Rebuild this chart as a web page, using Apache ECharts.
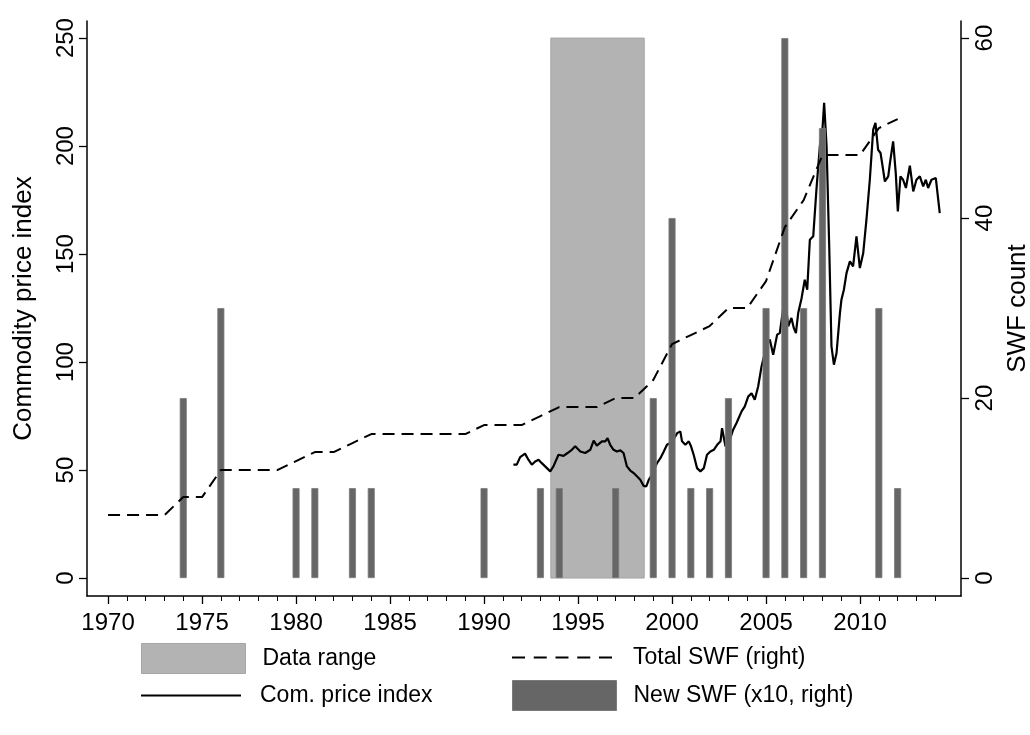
<!DOCTYPE html>
<html>
<head>
<meta charset="utf-8">
<script src="https://cdn.jsdelivr.net/npm/echarts@6/dist/echarts.min.js"></script>
<style>
html,body{margin:0;padding:0;background:#fff;}
#chart{width:1030px;height:735px;}
</style>
</head>
<body>
<div id="chart"></div>
<script>
// ---- Data ----
const xMajorTicks = [1970,1975,1980,1985,1990,1995,2000,2005,2010];
const xMinorTicks = [1970,1971,1972,1973,1974,1975,1976,1977,1978,1979,1980,1981,1982,1983,1984,1985,1986,1987,1988,1989,1990,1991,1992,1993,1994,1995,1996,1997,1998,1999,2000,2001,2002,2003,2004,2005,2006,2007,2008,2009,2010,2011,2012,2013,2014];
const yLeftTicks = [0,50,100,150,200,250];
const yRightTicks = [0,20,40,60];

const dataRange = [1993.55, 1998.52];   // shaded years
const dataRangeTop = 250;

const swfYears = [1970,1971,1972,1973,1974,1975,1976,1977,1978,1979,1980,1981,1982,1983,1984,1985,1986,1987,1988,1989,1990,1991,1992,1993,1994,1995,1996,1997,1998,1999,2000,2001,2002,2003,2004,2005,2006,2007,2008,2009,2010,2011,2012];
const totalSwf = [7,7,7,7,9,9,12,12,12,12,13,14,14,15,16,16,16,16,16,16,17,17,17,18,19,19,19,20,20,22,26,27,28,30,30,33,39,42,47,47,47,50,51];

const newSwfYears = [1974,1976,1980,1981,1983,1984,1990,1993,1994,1997,1999,2000,2001,2002,2003,2005,2006,2007,2008,2011,2012];
const newSwfX10 = [20,30,10,10,10,10,10,10,10,10,20,40,10,10,20,30,60,30,50,30,10];

const priceTime = [1991.56,1991.74,1991.92,1992.18,1992.36,1992.54,1992.72,1992.90,1993.07,1993.25,1993.52,1993.69,1993.96,1994.23,1994.44,1994.67,1994.85,1995.12,1995.38,1995.65,1995.83,1996.00,1996.27,1996.45,1996.57,1996.71,1996.89,1997.07,1997.25,1997.42,1997.60,1997.78,1997.96,1998.13,1998.31,1998.49,1998.63,1998.76,1998.88,1999.20,1999.38,1999.56,1999.73,2000.00,2000.27,2000.44,2000.53,2000.71,2000.89,2001.01,2001.15,2001.33,2001.51,2001.69,2001.86,2002.04,2002.22,2002.40,2002.58,2002.66,2002.84,2003.07,2003.25,2003.43,2003.70,2003.87,2004.05,2004.23,2004.40,2004.58,2004.76,2005.02,2005.20,2005.38,2005.59,2005.73,2006.00,2006.18,2006.35,2006.48,2006.59,2006.71,2006.89,2007.06,2007.19,2007.33,2007.51,2007.68,2007.86,2008.00,2008.09,2008.22,2008.36,2008.48,2008.61,2008.75,2008.93,2009.01,2009.14,2009.28,2009.46,2009.63,2009.81,2009.99,2010.17,2010.34,2010.52,2010.70,2010.82,2010.96,2011.09,2011.20,2011.32,2011.50,2011.59,2011.76,2011.90,2012.01,2012.15,2012.29,2012.44,2012.65,2012.83,2013.00,2013.18,2013.36,2013.50,2013.62,2013.80,2014.03,2014.24];
const priceIndex = [52.5,52.5,56,57.6,54.8,52.5,54,54.8,53.2,51.7,49.4,51.7,57.1,56.6,57.9,59.4,61,58.6,57.9,59.4,63.6,61.3,63.3,63.3,64.8,61.7,59.4,58.6,59.1,57.9,51.7,49.8,48.6,47.1,45.5,42.7,42.4,45.5,47.1,53.2,55.5,58.6,61.7,63,67.1,67.9,63.3,61.7,63.3,61,57.1,50.9,49.4,50.9,57.1,58.6,59.4,61.7,63.3,69.4,61,64,68.7,71.8,77.2,79.5,84,85.6,82.6,88.7,98,107.3,110.4,103.4,112.7,113.4,130.4,116.5,120.4,115.7,113.4,122.7,129.6,138.1,133.5,156.6,158.2,179.8,199.8,207.6,220,199.8,153.6,107.3,98.8,104.2,122.7,128.9,133.5,141.2,146.6,144.3,158.2,143.5,150.5,165.9,184.4,207.6,210.7,198.3,196.8,190.6,183.6,186,192.1,202.2,187.5,169.7,186,184.4,180.6,190.9,179,184.4,186,181.3,184.4,180.6,184.4,185.2,169];

// ---- Build ----
const FONT = 'Liberation Sans, Arial, Helvetica, sans-serif';
const TICK_FS = 24, TITLE_FS = 26, LEG_FS = 23;
const chart = echarts.init(document.getElementById('chart'), null, {renderer:'canvas'});

const xMin = 1968.88, xMax = 2015.37;
const yLMin = -8.3, yLMax = 257.9;
const yRMin = yLMin*yRightTicks[3]/yLeftTicks[5], yRMax = yLMax*yRightTicks[3]/yLeftTicks[5];

const axisLineStyle = {color:'#000', width:1.5};
const legText = {color:'#000', fontSize:LEG_FS, fontFamily:FONT, padding:[0,0,0,12]};
const legTextDash = {color:'#000', fontSize:LEG_FS, fontFamily:FONT, padding:[0,0,0,16]};
const dashIcon = 'path://M0,0h13v2h-13z M21.75,0h13v2h-13z M43.5,0h13v2h-13z M65.25,0h13v2h-13z M87,0h13v2h-13z';
const lineIcon = 'path://M0,0h100v2h-100z';

const option = {
  animation:false,
  backgroundColor:'#fff',
  grid:{left:87, right:69, top:21, bottom:139, containLabel:false, outerBoundsMode:'none'},
  xAxis:[
    {type:'value', min:xMin, max:xMax, position:'bottom',
     axisLine:{show:true, onZero:false, lineStyle:axisLineStyle},
     axisTick:{show:true, customValues:xMajorTicks, length:8, lineStyle:{color:'#000',width:1.3}},
     axisLabel:{show:true, customValues:xMajorTicks, color:'#000', fontSize:TICK_FS, fontFamily:FONT, margin:15, formatter:v=>String(v)},
     splitLine:{show:false}},
    {type:'value', min:xMin, max:xMax, position:'bottom',
     axisLine:{show:false, onZero:false},
     axisTick:{show:true, customValues:xMinorTicks, length:5, lineStyle:{color:'#000',width:1}},
     axisLabel:{show:false},
     splitLine:{show:false}}
  ],
  yAxis:[
    {type:'value', min:yLMin, max:yLMax, position:'left',
     name:'Commodity price index', nameLocation:'middle', nameRotate:90, nameGap:50,
     nameTextStyle:{color:'#000', fontSize:TITLE_FS, fontFamily:FONT},
     axisLine:{show:true, onZero:false, lineStyle:axisLineStyle},
     axisTick:{show:true, customValues:yLeftTicks, length:8, lineStyle:{color:'#000',width:1.3}},
     axisLabel:{show:true, customValues:yLeftTicks, rotate:90, color:'#000', fontSize:TICK_FS, fontFamily:FONT, margin:9, formatter:v=>String(v)},
     splitLine:{show:false}},
    {type:'value', min:yRMin, max:yRMax, position:'right',
     name:'SWF count', nameLocation:'middle', nameRotate:90, nameGap:35,
     nameTextStyle:{color:'#000', fontSize:TITLE_FS, fontFamily:FONT},
     axisLine:{show:true, onZero:false, lineStyle:axisLineStyle},
     axisTick:{show:true, customValues:yRightTicks, length:8, lineStyle:{color:'#000',width:1.3}},
     axisLabel:{show:true, customValues:yRightTicks, rotate:90, color:'#000', fontSize:TICK_FS, fontFamily:FONT, margin:12, formatter:v=>String(v)},
     splitLine:{show:false}}
  ],
  legend:[
    {left:141, top:643, padding:0, itemWidth:104, itemHeight:30, selectedMode:false, textStyle:legText,
     data:[{name:'Data range', icon:'rect', itemStyle:{color:'#b3b3b3', borderColor:'#a6a6a6', borderWidth:1}}]},
    {left:141, top:684, padding:0, itemWidth:104, itemHeight:2, selectedMode:false, textStyle:legText,
     data:[{name:'Com. price index', icon:lineIcon, itemStyle:{color:'#000', borderWidth:0}}]},
    {left:512, top:646, padding:0, itemWidth:100, itemHeight:2, selectedMode:false, textStyle:legTextDash,
     data:[{name:'Total SWF (right)', icon:dashIcon, itemStyle:{color:'#000', borderWidth:0}}]},
    {left:512, top:680, padding:0, itemWidth:104, itemHeight:30, selectedMode:false, textStyle:legText,
     data:[{name:'New SWF (x10, right)', icon:'rect', itemStyle:{color:'#666666', borderColor:'#7a7a7a', borderWidth:1}}]}
  ],
  series:[
    {name:'Data range', type:'custom', xAxisIndex:0, yAxisIndex:0, z:1,
     itemStyle:{color:'#b3b3b3'},
     data:[[dataRange[0], dataRange[1], dataRangeTop]],
     renderItem:function(params, api){
       const p0 = api.coord([api.value(0), 0]);
       const p1 = api.coord([api.value(1), api.value(2)]);
       return {type:'rect', shape:{x:p0[0], y:p1[1], width:p1[0]-p0[0], height:p0[1]-p1[1]},
               style:{fill:'#b3b3b3', stroke:'#a6a6a6', lineWidth:1}};
     }},
    {name:'Com. price index', type:'line', xAxisIndex:0, yAxisIndex:0, z:2,
     data:priceTime.map((t,i)=>[t, priceIndex[i]]),
     showSymbol:false, symbol:'none',
     lineStyle:{color:'#000', width:2.2}, itemStyle:{color:'#000'}},
    {name:'New SWF (x10, right)', type:'bar', xAxisIndex:0, yAxisIndex:1, z:3,
     data:newSwfYears.map((t,i)=>[t, newSwfX10[i]]),
     barWidth:7,
     itemStyle:{color:'#666666', borderColor:'#7a7a7a', borderWidth:0.8}},
    {name:'Total SWF (right)', type:'line', xAxisIndex:0, yAxisIndex:1, z:4,
     data:swfYears.map((t,i)=>[t, totalSwf[i]]),
     showSymbol:false, symbol:'none',
     lineStyle:{color:'#000', width:2, type:[12,7]}, itemStyle:{color:'#000'}}
  ]
};
chart.setOption(option);
</script>
</body>
</html>
